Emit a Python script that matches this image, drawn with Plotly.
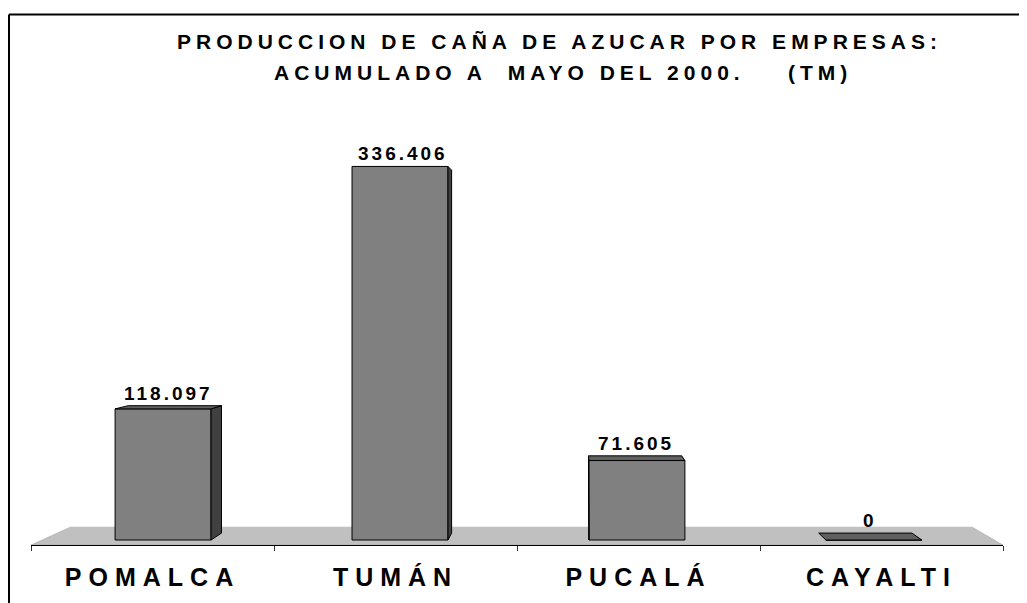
import plotly.graph_objects as go

# ---------------- data ----------------
categories = ["POMALCA", "TUMÁN", "PUCALÁ", "CAYALTI"]
values = [118097, 336406, 71605, 0]
title_line1 = "PRODUCCION DE CAÑA DE AZUCAR POR EMPRESAS:"
title_line2 = "ACUMULADO A  MAYO DEL 2000.    (TM)"

# ---------------- geometry / style ----------------
PAGE_OFF = 8                      # default body margin of the html page
FIG_W, FIG_H = 1027 - PAGE_OFF, 603 - PAGE_OFF
M_L, M_R, M_T, M_B = 31 - PAGE_OFF, 24, 100 - PAGE_OFF, 55
PW = FIG_W - M_L - M_R
PH = FIG_H - M_T - M_B

FONT = "Liberation Sans, Arial, sans-serif"
VP_X, VP_Y = 1.74, 219000          # vanishing point (data units)
BAR_DEPTH = 0.0286                 # perspective depth of a bar
FLOOR_DEPTH = 0.072                # perspective depth of the floor
FRONT_SCALE = 1 / 0.975            # bar plane -> front (axis) plane
BAR_W = 0.405

Y_MIN = -4472
Y_MAX = 396244


def project(x, y, t):
    return VP_X + (x - VP_X) * (1 - t), VP_Y + (y - VP_Y) * (1 - t)


def to_front(x):
    return VP_X + (x - VP_X) * FRONT_SCALE


n = len(categories)
X_RANGE = [to_front(-0.5), to_front(n - 0.5)]
idx = list(range(n))


def fmt(v):
    return f"{v:,}".replace(",", ".")


def spaced(text, sp):
    return f'<span style="letter-spacing:{sp}px">{text}</span>'


# page pixel -> paper coordinates
def px_x(p):
    return (p - PAGE_OFF - M_L) / PW


def px_y(p):
    return (FIG_H - M_B - (p - PAGE_OFF)) / PH


fig = go.Figure()

# front faces of the bars
fig.add_trace(go.Bar(
    x=idx, y=values, width=BAR_W,
    marker=dict(color="#808080", line=dict(color="black", width=1)),
    hoverinfo="skip", showlegend=False,
))

SIDE_COL = "#404040"
TOP_COL = "#606060"
labels = []
for i, v in zip(idx, values):
    x0, x1 = i - BAR_W / 2, i + BAR_W / 2
    polys = []
    if v > 0 and x1 < VP_X:
        bx1, by1 = project(x1, v, BAR_DEPTH)
        bx0, by0 = project(x1, 0, BAR_DEPTH)
        polys.append(([x1, x1, bx1, bx0, x1], [0, v, by1, by0, 0], SIDE_COL))
    if v > 0 and x0 > VP_X:
        bx1, by1 = project(x0, v, BAR_DEPTH)
        bx0, by0 = project(x0, 0, BAR_DEPTH)
        polys.append(([x0, x0, bx1, bx0, x0], [0, v, by1, by0, 0], SIDE_COL))
    if v < VP_Y:
        ax, ay = project(x1, v, BAR_DEPTH)
        cx, cy = project(x0, v, BAR_DEPTH)
        polys.append(([x0, x1, ax, cx, x0], [v, v, ay, cy, v], TOP_COL))
    for xs, ys, col in polys:
        fig.add_trace(go.Scatter(
            x=xs, y=ys, mode="lines", fill="toself", fillcolor=col,
            line=dict(color="black", width=1), hoverinfo="skip", showlegend=False,
        ))
    tx, ty = project(i, v, BAR_DEPTH)
    labels.append(dict(
        x=(i + tx) / 2, y=max(v, ty), xref="x", yref="y",
        text=spaced(fmt(v), 3), showarrow=False, yanchor="bottom", yshift=0,
        font=dict(family=FONT, size=19, color="black", weight="bold"),
    ))

# floor
fx0, fx1 = X_RANGE
bx0, by = project(fx0, Y_MIN, FLOOR_DEPTH)
bx1, _ = project(fx1, Y_MIN, FLOOR_DEPTH)
floor_path = f"M {fx0},{Y_MIN} L {fx1},{Y_MIN} L {bx1},{by} L {bx0},{by} Z"

shapes = [
    dict(type="path", path=floor_path, xref="x", yref="y", layer="below",
         fillcolor="#C0C0C0", line=dict(color="#A0A0A0", width=0.5)),
    # chart frame (left and top edges)
    dict(type="line", xref="paper", yref="paper", x0=px_x(9), x1=px_x(9),
         y0=px_y(14), y1=px_y(640), line=dict(color="black", width=2)),
    dict(type="line", xref="paper", yref="paper", x0=px_x(9), x1=px_x(1060),
         y0=px_y(14), y1=px_y(14), line=dict(color="black", width=2)),
]

annotations = labels + [
    dict(x=px_x(559), y=px_y(41), xref="paper", yref="paper", showarrow=False,
         text=spaced(title_line1, 5), yanchor="middle", xanchor="center",
         font=dict(family=FONT, size=21, color="black", weight="bold")),
    dict(x=px_x(563), y=px_y(72), xref="paper", yref="paper", showarrow=False,
         text=spaced(title_line2, 5), yanchor="middle", xanchor="center",
         font=dict(family=FONT, size=21, color="black", weight="bold")),
]

fig.update_layout(
    width=FIG_W, height=FIG_H,
    margin=dict(l=M_L, r=M_R, t=M_T, b=M_B, pad=0),
    paper_bgcolor="white", plot_bgcolor="white",
    font=dict(family=FONT, color="black"),
    shapes=shapes, annotations=annotations,
    showlegend=False,
    xaxis=dict(
        range=X_RANGE, showgrid=False, zeroline=False,
        showline=True, linecolor="black", linewidth=1,
        tickmode="array", tickvals=[to_front(i) for i in idx],
        ticktext=[spaced(c, 7) for c in categories],
        ticks="", ticklabelstandoff=10,
        tickfont=dict(family=FONT, size=25, color="black", weight="bold"),
        minor=dict(tickmode="array", tickvals=[to_front(i - 0.5) for i in range(n + 1)],
                   ticks="outside", ticklen=5, tickcolor="#333333", tickwidth=1),
        fixedrange=True,
    ),
    yaxis=dict(range=[Y_MIN, Y_MAX], visible=False, showgrid=False, zeroline=False,
               fixedrange=True),
)

fig.write_html("out.html")
